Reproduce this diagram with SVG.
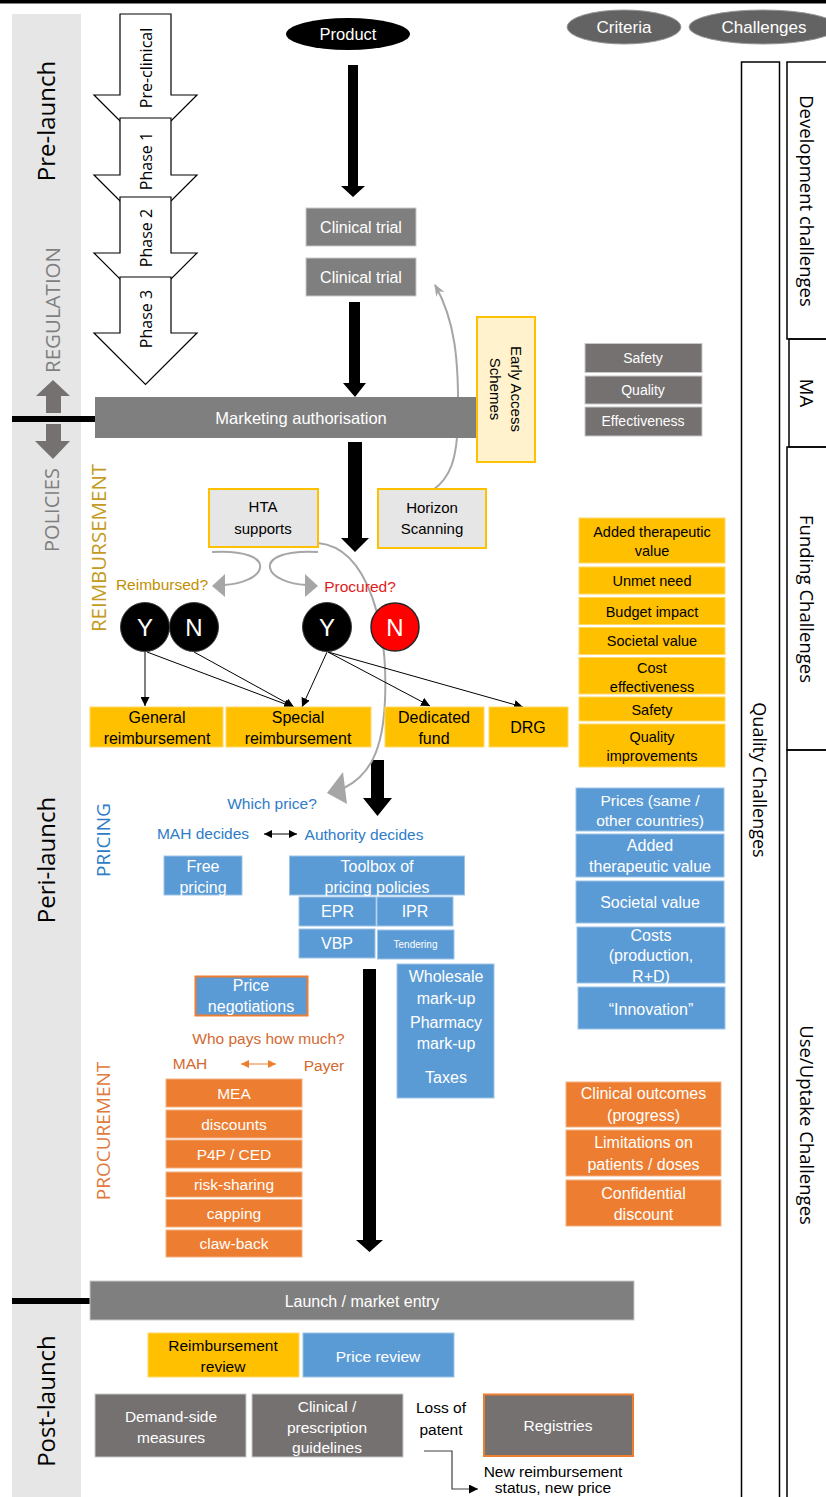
<svg xmlns="http://www.w3.org/2000/svg" width="826" height="1497" viewBox="0 0 826 1497">
  <defs>
    <style>
      .t { font-family: "Liberation Sans", Arial, sans-serif; text-anchor: middle; }
      .os { font-family: "Open Sans", "Liberation Sans", sans-serif; text-anchor: middle; }
      .w { fill: #ffffff; }
      .k { fill: #000000; }
      .s14 { font-size: 14px; }
      .s145 { font-size: 14.5px; }
      .s15 { font-size: 15px; }
      .s155 { font-size: 15.5px; }
      .s16 { font-size: 16px; }
      .gray { fill: #7f7f7f; stroke: #c9c9c9; stroke-width: 1; }
      .dgray { fill: #757171; stroke: #c9c9c9; stroke-width: 1; }
      .gold { fill: #ffc000; stroke: #ffd966; stroke-width: 1; }
      .blue { fill: #5b9bd5; stroke: #9dc3e6; stroke-width: 1; }
      .orange { fill: #ed7d31; stroke: #f4b183; stroke-width: 1; }
      .lgray { fill: #e7e6e6; stroke: #ffc000; stroke-width: 2; }
      .phase { fill: #ffffff; stroke: #000000; stroke-width: 1.2; }
      .thin { fill: none; stroke: #000000; stroke-width: 1; }
      .gcurve { fill: none; stroke: #a6a6a6; stroke-width: 2; }
      .blk { fill: #000000; }
      .col { fill: none; stroke: #000000; stroke-width: 1.5; }
      .side { font-family: "Open Sans", "Liberation Sans", sans-serif; text-anchor: middle; }
    </style>
    <marker id="ah" viewBox="0 0 10 10" refX="10" refY="5" markerWidth="9" markerHeight="9" markerUnits="userSpaceOnUse" orient="auto">
      <path d="M0,0 L10,5 L0,10 z" fill="#000000"/>
    </marker>
    <marker id="ah2" viewBox="0 0 10 10" refX="10" refY="5" markerWidth="8" markerHeight="8" markerUnits="userSpaceOnUse" orient="auto-start-reverse">
      <path d="M0,0 L10,5 L0,10 z" fill="#000000"/>
    </marker>
    <marker id="ahO" viewBox="0 0 10 10" refX="10" refY="5" markerWidth="8" markerHeight="8" markerUnits="userSpaceOnUse" orient="auto-start-reverse">
      <path d="M0,0 L10,5 L0,10 z" fill="#ed7d31"/>
    </marker>
    <marker id="ahG" viewBox="0 0 10 10" refX="9" refY="5" markerWidth="12" markerHeight="12" markerUnits="userSpaceOnUse" orient="auto">
      <path d="M0,1 L10,5 L0,9 L3,5 z" fill="#a6a6a6"/>
    </marker>
    <marker id="ahD" viewBox="0 0 10 10" refX="10" refY="5" markerWidth="9" markerHeight="9" markerUnits="userSpaceOnUse" orient="auto">
      <path d="M0,0 L10,5 L0,10 z" fill="#000000"/>
    </marker>
  </defs>

  <rect x="0" y="0" width="826" height="1497" fill="#ffffff"/>
  <!-- top rule -->
  <rect x="0" y="0" width="826" height="3.5" fill="#000000"/>

  <!-- phase band on the left -->
  <g id="phase-band">
    <rect x="12" y="14" width="69" height="1483" fill="#e6e6e6"/>
    <text class="os" font-size="24" transform="translate(47,121) rotate(-90)" y="8.4">Pre-launch</text>
    <text class="os" font-size="20.5" fill="#7f7f7f" transform="translate(53,310) rotate(-90)" y="7.2">REGULATION</text>
    <polygon points="53,380 70,396 61,396 61,413 46,413 46,396 36,396" fill="#767171"/>
    <rect x="12" y="416" width="84" height="6" fill="#000000"/>
    <polygon points="46,424 61,424 61,441 70,441 53,459 35,441 46,441" fill="#767171"/>
    <text class="os" font-size="20" fill="#7f7f7f" transform="translate(52,510) rotate(-90)" y="7">POLICIES</text>
    <text class="os" font-size="24" transform="translate(47,860) rotate(-90)" y="8.4">Peri-launch</text>
    <rect x="12" y="1298" width="80" height="6" fill="#000000"/>
    <text class="os" font-size="24" transform="translate(47,1401) rotate(-90)" y="8.4">Post-launch</text>
  </g>

  <!-- section labels -->
  <g id="section-labels">
    <text class="os" font-size="20.5" fill="#c49a22" transform="translate(99,548) rotate(-90)" y="7.2">REIMBURSEMENT</text>
    <text class="os" font-size="19" fill="#2e7cc7" transform="translate(103,840) rotate(-90)" y="6.6">PRICING</text>
    <text class="os" font-size="19" fill="#e07a3c" transform="translate(103,1131) rotate(-90)" y="6.6">PROCUREMENT</text>
  </g>

  <!-- development phases -->
  <g id="phases">
    <polygon class="phase" points="120,14 171,14 171,95 197,95 145.5,146.5 94,95 120,95"/>
    <polygon class="phase" points="120,118 171,118 171,175 197,175 145.5,226.5 94,175 120,175"/>
    <polygon class="phase" points="120,197 171,197 171,253 197,253 145.5,304.5 94,253 120,253"/>
    <polygon class="phase" points="120,277 171,277 171,333 197,333 145.5,384.5 94,333 120,333"/>
    <text class="os" font-size="16" transform="translate(146,68) rotate(-90)" y="5.6">Pre-clinical</text>
    <text class="os" font-size="16" transform="translate(146,161) rotate(-90)" y="5.6">Phase 1</text>
    <text class="os" font-size="16" transform="translate(146,238) rotate(-90)" y="5.6">Phase 2</text>
    <text class="os" font-size="16" transform="translate(146,319) rotate(-90)" y="5.6">Phase 3</text>
  </g>

  <!-- legend ellipses -->
  <g id="legend">
    <ellipse cx="624" cy="27" rx="57" ry="17" fill="#636363" stroke="#9a9a9a" stroke-width="1"/>
    <text class="t w" font-size="17" x="624" y="33">Criteria</text>
    <ellipse cx="763" cy="27" rx="74" ry="17" fill="#636363" stroke="#9a9a9a" stroke-width="1"/>
    <text class="t w" font-size="17" x="764" y="33">Challenges</text>
  </g>

  <!-- challenge columns -->
  <g id="challenges">
    <rect class="col" x="741.5" y="62" width="38" height="1450"/>
    <text class="side" font-size="18" transform="translate(759,780) rotate(90)" y="6.3">Quality Challenges</text>
    <rect class="col" x="787" y="62" width="60" height="277"/>
    <text class="side" font-size="18.5" transform="translate(806,201) rotate(90)" y="6.5">Development challenges</text>
    <rect class="col" x="789" y="339" width="60" height="108"/>
    <text class="side" font-size="18.5" transform="translate(806,393) rotate(90)" y="6.5">MA</text>
    <rect class="col" x="787" y="447" width="60" height="303"/>
    <text class="side" font-size="18.5" transform="translate(806,599) rotate(90)" y="6.5">Funding Challenges</text>
    <rect class="col" x="787" y="750" width="60" height="760"/>
    <text class="side" font-size="18.5" transform="translate(806,1125) rotate(90)" y="6.5">Use/Uptake Challenges</text>
  </g>

  <!-- connectors -->
  <g id="connectors">
    <!-- main flow block arrows -->
    <polygon class="blk" points="348,65 358,65 358,186 365,186 353,197 341,186 348,186"/>
    <polygon class="blk" points="349,302 360,302 360,383 366,383 355,397 343,383 349,383"/>
    <polygon class="blk" points="348,442 362,442 362,538 369,538 355,552 341,538 348,538"/>
    <polygon class="blk" points="371,760 384,760 384,798 392,798 377.5,816 363,798 371,798"/>
    <polygon class="blk" points="363,969 376,969 376,1240 383,1240 369.5,1252 356,1240 363,1240"/>

    <!-- horizon scanning feeds back to the clinical trials -->
    <path class="gcurve" d="M433,490 C450,478 457,460 458,420 C459,360 455,320 435,285" marker-end="url(#ahG)"/>

    <!-- HTA splits into the two questions -->
    <path class="gcurve" d="M212,552 C245,550 262,558 260,568 C258,578 240,584 224,585"/>
    <polygon points="212,586 225,574 225,597" fill="#a6a6a6"/>
    <path class="gcurve" d="M318,552 C285,550 268,558 270,568 C272,578 290,584 306,585"/>
    <polygon points="318,586 305,574 305,597" fill="#a6a6a6"/>

    <!-- HTA informs pricing -->
    <path class="gcurve" d="M318,543 C370,548 388,630 385,700 C383,750 370,775 344,788"/>
    <polygon points="343,772 327,793 347,804" fill="#a6a6a6"/>

    <!-- decision outcomes -->
    <line class="thin" x1="145" y1="652" x2="145" y2="706" marker-end="url(#ah)"/>
    <line class="thin" x1="147" y1="652" x2="293" y2="707" marker-end="url(#ah)"/>
    <line class="thin" x1="194" y1="652" x2="294" y2="707" marker-end="url(#ah)"/>
    <line class="thin" x1="327" y1="652" x2="302" y2="707" marker-end="url(#ah)"/>
    <line class="thin" x1="328" y1="652" x2="430" y2="706" marker-end="url(#ah)"/>
    <line class="thin" x1="328" y1="652" x2="523" y2="707" marker-end="url(#ah)"/>

    <!-- who decides -->
    <line class="thin" x1="264" y1="834" x2="297" y2="834" marker-start="url(#ah2)" marker-end="url(#ah2)"/>
    <line x1="241" y1="1064" x2="276" y2="1064" stroke="#ed7d31" stroke-width="1.2" marker-start="url(#ahO)" marker-end="url(#ahO)"/>

    <!-- loss of patent -->
    <path d="M424,1451 H452 V1489 H478" fill="none" stroke="#404040" stroke-width="1.2" marker-end="url(#ahD)"/>
  </g>

  <!-- product and clinical trials -->
  <g id="product">
    <ellipse cx="348" cy="34" rx="62" ry="16" fill="#000000"/>
    <text class="t w" font-size="16.5" x="348" y="40">Product</text>
  </g>
  <g id="clinical-trial-1">
    <rect class="gray" x="306" y="208" width="110" height="38"/>
    <text class="t w s16" x="361" y="232.5">Clinical trial</text>
  </g>
  <g id="clinical-trial-2">
    <rect class="gray" x="306" y="258" width="110" height="38"/>
    <text class="t w s16" x="361" y="282.5">Clinical trial</text>
  </g>
  <g id="marketing-authorisation">
    <rect x="95" y="397" width="382" height="41" fill="#7f7f7f"/>
    <text class="t w" font-size="16.5" x="301" y="424">Marketing authorisation</text>
  </g>
  <g id="early-access">
    <rect x="477" y="317" width="58" height="145" fill="#fff2cc" stroke="#ffc000" stroke-width="2"/>
    <text class="t k s15" transform="translate(506,389) rotate(90)"><tspan x="0" y="-4.5">Early Access</tspan><tspan x="0" y="16.5">Schemes</tspan></text>
  </g>

  <!-- MA criteria -->
  <g id="ma-criteria">
    <rect class="dgray" x="585" y="343.5" width="117" height="29"/>
    <text class="t w s14" x="643" y="363">Safety</text>
    <rect class="dgray" x="585" y="376" width="117" height="28"/>
    <text class="t w s14" x="643" y="395">Quality</text>
    <rect class="dgray" x="585" y="407" width="117" height="29"/>
    <text class="t w s14" x="643" y="426">Effectiveness</text>
  </g>

  <!-- reimbursement section -->
  <g id="hta-supports">
    <rect class="lgray" x="209" y="489" width="109" height="58"/>
    <text class="t k s15" x="263" y="512">HTA</text>
    <text class="t k s15" x="263" y="534">supports</text>
  </g>
  <g id="horizon-scanning">
    <rect class="lgray" x="378" y="489" width="108" height="59"/>
    <text class="t k s15" x="432" y="513">Horizon</text>
    <text class="t k s15" x="432" y="534">Scanning</text>
  </g>
  <g id="questions">
    <text class="t s155" fill="#bf9000" x="162" y="590">Reimbursed?</text>
    <text class="t s155" fill="#e01b1b" x="360" y="591.5">Procured?</text>
  </g>
  <g id="reimbursed-yes">
    <circle cx="145" cy="627" r="24.5" fill="#000000" stroke="#404040" stroke-width="1"/>
    <text class="t w" font-size="24" x="145" y="635.5">Y</text>
  </g>
  <g id="reimbursed-no">
    <circle cx="194" cy="627" r="24.5" fill="#000000" stroke="#404040" stroke-width="1"/>
    <text class="t w" font-size="24" x="194" y="635.5">N</text>
  </g>
  <g id="procured-yes">
    <circle cx="327" cy="627" r="24.5" fill="#000000" stroke="#404040" stroke-width="1"/>
    <text class="t w" font-size="24" x="327" y="635.5">Y</text>
  </g>
  <g id="procured-no">
    <circle cx="395" cy="627" r="24" fill="#ff0000" stroke="#262626" stroke-width="1.5"/>
    <text class="t w" font-size="24" x="395" y="635.5">N</text>
  </g>
  <g id="general-reimbursement">
    <rect class="gold" x="90" y="707" width="133" height="40"/>
    <text class="t k s16" x="157" y="722.5">General</text>
    <text class="t k s16" x="157" y="743.5">reimbursement</text>
  </g>
  <g id="special-reimbursement">
    <rect class="gold" x="226" y="707" width="145" height="40"/>
    <text class="t k s16" x="298" y="722.5">Special</text>
    <text class="t k s16" x="298" y="743.5">reimbursement</text>
  </g>
  <g id="dedicated-fund">
    <rect class="gold" x="385" y="707" width="99" height="40"/>
    <text class="t k s16" x="434" y="722.5">Dedicated</text>
    <text class="t k s16" x="434" y="743.5">fund</text>
  </g>
  <g id="drg">
    <rect class="gold" x="489" y="707" width="79" height="40"/>
    <text class="t k s16" x="528" y="733">DRG</text>
  </g>

  <!-- funding criteria -->
  <g id="funding-criteria">
    <rect class="gold" x="579" y="518" width="146" height="45"/>
    <text class="t k s145" x="652" y="537">Added therapeutic</text>
    <text class="t k s145" x="652" y="556">value</text>
    <rect class="gold" x="579" y="567" width="146" height="27"/>
    <text class="t k s145" x="652" y="586">Unmet need</text>
    <rect class="gold" x="579" y="597.5" width="146" height="27"/>
    <text class="t k s145" x="652" y="616.5">Budget impact</text>
    <rect class="gold" x="579" y="627.5" width="146" height="27"/>
    <text class="t k s145" x="652" y="646">Societal value</text>
    <rect class="gold" x="579" y="657.5" width="146" height="36.5"/>
    <text class="t k s145" x="652" y="673">Cost</text>
    <text class="t k s145" x="652" y="692">effectiveness</text>
    <rect class="gold" x="579" y="697" width="146" height="24"/>
    <text class="t k s145" x="652" y="714.5">Safety</text>
    <rect class="gold" x="579" y="724" width="146" height="43"/>
    <text class="t k s145" x="652" y="742">Quality</text>
    <text class="t k s145" x="652" y="760.5">improvements</text>
  </g>

  <!-- pricing section -->
  <g id="pricing-labels">
    <text class="t s155" fill="#2e7cc7" x="272" y="808.5">Which price?</text>
    <text class="t s155" fill="#2e7cc7" x="203" y="839">MAH decides</text>
    <text class="t s155" fill="#2e7cc7" x="364" y="840">Authority decides</text>
  </g>
  <g id="free-pricing">
    <rect class="blue" x="164" y="856" width="78" height="39"/>
    <text class="t w s16" x="203" y="871.5">Free</text>
    <text class="t w s16" x="203" y="892.5">pricing</text>
  </g>
  <g id="toolbox">
    <rect class="blue" x="289.5" y="856" width="175" height="39"/>
    <text class="t w s16" x="377" y="871.5">Toolbox of</text>
    <text class="t w s16" x="377" y="892.5">pricing policies</text>
  </g>
  <g id="epr">
    <rect class="blue" x="299" y="897" width="77" height="29"/>
    <text class="t w s16" x="337.5" y="917">EPR</text>
  </g>
  <g id="ipr">
    <rect class="blue" x="377" y="897" width="76" height="29"/>
    <text class="t w s16" x="415" y="917">IPR</text>
  </g>
  <g id="vbp">
    <rect class="blue" x="299" y="929" width="76" height="29"/>
    <text class="t w s16" x="337" y="949">VBP</text>
  </g>
  <g id="tendering">
    <rect class="blue" x="377.5" y="930" width="76.5" height="29"/>
    <text class="t w" font-size="10" x="415.5" y="948">Tendering</text>
  </g>
  <g id="price-negotiations">
    <rect x="195.5" y="976.5" width="112" height="39" fill="#5b9bd5" stroke="#ed7d31" stroke-width="2"/>
    <text class="t w s16" x="251" y="990.5">Price</text>
    <text class="t w s16" x="251" y="1011.5">negotiations</text>
  </g>
  <g id="markups">
    <rect class="blue" x="397" y="964" width="97" height="134"/>
    <text class="t w s16" x="446" y="981.5">Wholesale</text>
    <text class="t w s16" x="446" y="1003.5">mark-up</text>
    <text class="t w s16" x="446" y="1027.5">Pharmacy</text>
    <text class="t w s16" x="446" y="1048.5">mark-up</text>
    <text class="t w s16" x="446" y="1082.5">Taxes</text>
  </g>

  <!-- pricing criteria -->
  <g id="pricing-criteria">
    <rect class="blue" x="576" y="788" width="148" height="43"/>
    <text class="t w s155" x="650" y="805.5">Prices (same /</text>
    <text class="t w s155" x="650" y="825.5">other countries)</text>
    <rect class="blue" x="576" y="834" width="148" height="43"/>
    <text class="t w s16" x="650" y="850.5">Added</text>
    <text class="t w s16" x="650" y="871.5">therapeutic value</text>
    <rect class="blue" x="576" y="881" width="148" height="42"/>
    <text class="t w s16" x="650" y="907.5">Societal value</text>
    <rect class="blue" x="577" y="927" width="148" height="56"/>
    <text class="t w s16" x="651" y="940.5">Costs</text>
    <text class="t w s16" x="651" y="960.5">(production,</text>
    <text class="t w s16" x="651" y="981.5">R+D)</text>
    <rect class="blue" x="578" y="987" width="147" height="42"/>
    <text class="t w s16" x="651" y="1014.5">“Innovation”</text>
  </g>

  <!-- procurement section -->
  <g id="procurement-labels">
    <text class="t s155" fill="#d3692f" x="268.5" y="1043.5">Who pays how much?</text>
    <text class="t s155" fill="#d3692f" x="190" y="1068.5">MAH</text>
    <text class="t s155" fill="#d3692f" x="324" y="1070.5">Payer</text>
  </g>
  <g id="procurement-tools">
    <rect class="orange" x="166" y="1079" width="136" height="28"/>
    <text class="t w s155" x="234" y="1098.5">MEA</text>
    <rect class="orange" x="166" y="1110" width="136" height="28"/>
    <text class="t w s155" x="234" y="1129.5">discounts</text>
    <rect class="orange" x="166" y="1140" width="136" height="28"/>
    <text class="t w s155" x="234" y="1159.5">P4P / CED</text>
    <rect class="orange" x="166" y="1172" width="136" height="25"/>
    <text class="t w s155" x="234" y="1190">risk-sharing</text>
    <rect class="orange" x="166" y="1199.5" width="136" height="27.5"/>
    <text class="t w s155" x="234" y="1218.5">capping</text>
    <rect class="orange" x="166" y="1230" width="136" height="27"/>
    <text class="t w s155" x="234" y="1249">claw-back</text>
  </g>
  <g id="uptake-criteria">
    <rect class="orange" x="566" y="1082" width="155" height="45"/>
    <text class="t w s16" x="643.5" y="1098.5">Clinical outcomes</text>
    <text class="t w s16" x="643.5" y="1120.5">(progress)</text>
    <rect class="orange" x="566" y="1130" width="155" height="46"/>
    <text class="t w s16" x="643.5" y="1147.5">Limitations on</text>
    <text class="t w s16" x="643.5" y="1169.5">patients / doses</text>
    <rect class="orange" x="566" y="1180" width="155" height="46"/>
    <text class="t w s16" x="643.5" y="1198.5">Confidential</text>
    <text class="t w s16" x="643.5" y="1219.5">discount</text>
  </g>

  <!-- post-launch -->
  <g id="launch">
    <rect x="90" y="1281" width="544" height="39" fill="#7f7f7f" stroke="#c9c9c9" stroke-width="1"/>
    <text class="t w s16" x="362" y="1306.5">Launch / market entry</text>
  </g>
  <g id="reimbursement-review">
    <rect class="gold" x="148" y="1333" width="151" height="44"/>
    <text class="t k s155" x="223" y="1350.5">Reimbursement</text>
    <text class="t k s155" x="223" y="1371.5">review</text>
  </g>
  <g id="price-review">
    <rect class="blue" x="303" y="1333" width="151" height="44"/>
    <text class="t w s155" x="378" y="1361.5">Price review</text>
  </g>
  <g id="demand-side">
    <rect class="dgray" x="95" y="1394" width="151" height="63"/>
    <text class="t w s155" x="171" y="1421.5">Demand-side</text>
    <text class="t w s155" x="171" y="1442.5">measures</text>
  </g>
  <g id="guidelines">
    <rect class="dgray" x="252" y="1394" width="151" height="63"/>
    <text class="t w s155" x="327" y="1411.5">Clinical /</text>
    <text class="t w s155" x="327" y="1432.5">prescription</text>
    <text class="t w s155" x="327" y="1452.5">guidelines</text>
  </g>
  <g id="loss-of-patent">
    <text class="t k s155" x="441" y="1412.5">Loss of</text>
    <text class="t k s155" x="441" y="1434.5">patent</text>
  </g>
  <g id="registries">
    <rect x="484" y="1394.5" width="149" height="61.5" fill="#757171" stroke="#ed7d31" stroke-width="2"/>
    <text class="t w s155" x="558" y="1430.5">Registries</text>
  </g>
  <g id="new-status">
    <text class="t k s155" x="553" y="1477">New reimbursement</text>
    <text class="t k s155" x="553" y="1493">status, new price</text>
  </g>
</svg>
